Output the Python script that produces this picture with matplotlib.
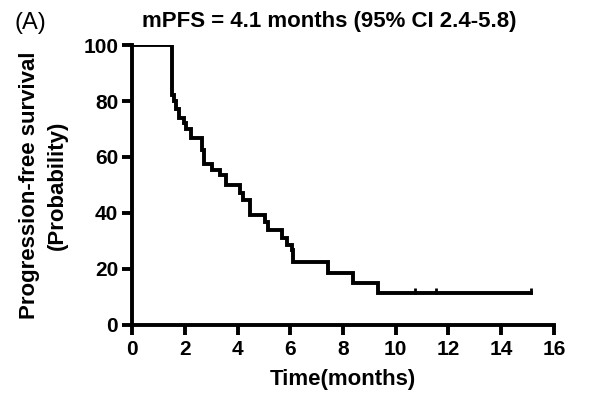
import numpy as np
import matplotlib
matplotlib.use('Agg')
import matplotlib.pyplot as plt

plt.rcParams['font.family'] = ['Liberation Sans', 'DejaVu Sans']

# Kaplan-Meier steps (time in months, survival in %)
eventTimes = [0, 1.50, 1.58, 1.68, 1.80, 1.97, 2.06, 2.24, 2.64, 2.74, 3.02, 3.33, 3.58,
              4.09, 4.20, 4.47, 5.04, 5.17, 5.67, 5.86, 6.05, 6.11, 7.44, 8.38, 9.33]
survival = [100, 82.1, 80.0, 77.0, 74.0, 72.0, 70.0, 66.7, 62.5, 57.5, 55.4, 53.6, 50.0,
            47.0, 44.6, 39.3, 36.9, 33.9, 31.0, 28.6, 26.8, 22.6, 18.7, 14.9, 11.3]
endTime = 15.14
censorTimes = [10.72, 11.54, 15.14]
censorVals = [11.3, 11.3, 11.3]

xTicks = [0, 2, 4, 6, 8, 10, 12, 14, 16]
yTicks = [0, 20, 40, 60, 80, 100]

fig = plt.figure(figsize=(5.96, 3.99), dpi=100)
ax = fig.add_axes([0.2215, 0.1855, 0.708, 0.7017])

# step curve
xs = eventTimes + [endTime]
ys = survival + [survival[-1]]
ax.step(xs, ys, where='post', color='black', lw=2.8, solid_joinstyle='miter')
ax.plot(censorTimes, np.array(censorVals) + 1.0, linestyle='none', marker='|',
        color='black', ms=5, mew=2.0)

ax.set_xlim(0, 16)
ax.set_ylim(0, 100)
ax.set_xticks(xTicks)
ax.set_yticks(yTicks)
for s in ['top', 'right']:
    ax.spines[s].set_visible(False)
for s in ['left', 'bottom']:
    ax.spines[s].set_linewidth(2.8)
ax.tick_params(width=2.8, length=7, labelsize=15, pad=3)
ax.tick_params(axis='x', pad=4)
for lab in ax.get_xticklabels() + ax.get_yticklabels():
    lab.set_fontweight('bold')

ax.set_xlabel('Time(months)', fontsize=16, fontweight='bold', labelpad=7)
fig.text(43.5 / 596, 1 - 185 / 399, 'Progression-free survival\n(Probability)',
         rotation=90, ha='center', va='center', multialignment='center',
         fontsize=16, fontweight='bold', linespacing=1.45)

fig.text(0.552, 0.945, 'mPFS = 4.1 months (95% CI 2.4-5.8)', ha='center', va='center',
         fontsize=16, fontweight='bold')
fig.text(0.025, 0.942, '(A)', ha='left', va='center', fontsize=17)

fig.savefig('out.png', dpi=100)
